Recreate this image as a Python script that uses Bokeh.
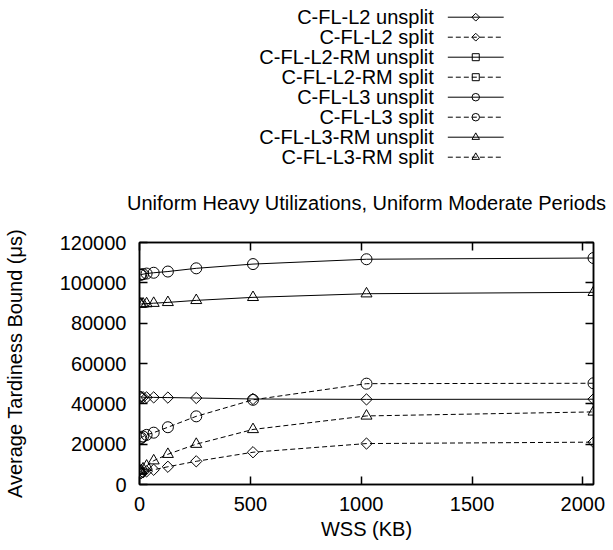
import math
from bokeh.plotting import figure
from bokeh.layouts import column
from bokeh.models import Range1d, LinearAxis, FixedTicker, BasicTickFormatter, CustomJSTickFormatter
from bokeh.core.properties import value
from bokeh.embed import file_html
from bokeh.resources import INLINE

# ---------------- data ----------------
wss_kb = [4, 8, 16, 32, 64, 128, 256, 512, 1024, 2048]

l2_unsplit = [43500, 43400, 43300, 43200, 43200, 43100, 42900, 42400, 42200, 42300]
l2_split = [5500, 5700, 6000, 6500, 7300, 8800, 11500, 16000, 20300, 21000]
l2rm_unsplit = []   # not visible in the chart
l2rm_split = []     # not visible in the chart
l3_unsplit = [104000, 104100, 104300, 104600, 105000, 105600, 107200, 109300, 111700, 112300]
l3_split = [22800, 23200, 23800, 24600, 25700, 28400, 33800, 42000, 50000, 50200]
l3rm_unsplit = [89500, 89500, 89600, 89700, 89900, 90300, 91300, 92800, 94600, 95300]
l3rm_split = [6500, 7000, 7800, 9200, 11800, 15000, 20000, 27300, 34000, 36000]

series_names = [
    "C-FL-L2 unsplit", "C-FL-L2 split",
    "C-FL-L2-RM unsplit", "C-FL-L2-RM split",
    "C-FL-L3 unsplit", "C-FL-L3 split",
    "C-FL-L3-RM unsplit", "C-FL-L3-RM split",
]
series_values = [l2_unsplit, l2_split, l2rm_unsplit, l2rm_split,
                 l3_unsplit, l3_split, l3rm_unsplit, l3rm_split]

x_ticks = [0, 500, 1000, 1500, 2000]
y_ticks = [0, 20000, 40000, 60000, 80000, 100000, 120000]
title_text = "Uniform Heavy Utilizations, Uniform Moderate Periods"
x_label = "WSS (KB)"
y_label = "Average Tardiness Bound (\u03bcs)"

# ---------------- styles ----------------
FONT = "Liberation Sans"
FS = "20px"
# (marker, angle, plot size, legend size)
marker_styles = {
    "diamond": ("square", math.pi / 4, 8, 5.5),
    "square": ("square", 0.0, 8, 7),
    "circle": ("circle", 0.0, 11, 7.5),
    "triangle": ("triangle", 0.0, 11, 7.5),
}
series_markers = ["diamond", "diamond", "square", "square",
                  "circle", "circle", "triangle", "triangle"]
series_dash = ["solid", "5 3"] * 4

W = 612
FRAME_L = 138
FRAME_R = 593
LEG_H = 222
LEG_FRAME_H = 184
MAIN_H = 549 - LEG_H

# ---------------- legend figure (data units = page pixels), title below it ----------------
leg = figure(width=W, height=LEG_H, x_range=Range1d(FRAME_L, FRAME_R),
             y_range=Range1d(LEG_FRAME_H, 0),
             x_axis_type=None, y_axis_type=None, toolbar_location=None,
             output_backend="svg", min_border_left=FRAME_L, min_border_right=W - FRAME_R,
             min_border_top=0, min_border_bottom=LEG_H - LEG_FRAME_H,
             title=title_text, title_location="below")
leg.outline_line_color = None
leg.title.text_font = FONT
leg.title.text_font_size = FS
leg.title.text_font_style = "normal"
leg.title.text_color = "black"
leg.title.align = "center"
leg.title.standoff = 10

row_y = [16.7 + 20 * i for i in range(len(series_names))]
leg.text(x=[433] * len(series_names), y=row_y, text=series_names,
         text_align="right", text_baseline="middle",
         text_font=value(FONT), text_font_size=FS, text_color="black")
for i, name in enumerate(series_names):
    mk, ang, _, lsz = marker_styles[series_markers[i]]
    leg.line(x=[447, 503], y=[row_y[i], row_y[i]], line_color="black", line_width=1,
             line_dash=series_dash[i])
    leg.scatter(x=[475], y=[row_y[i]], marker=mk, angle=ang, size=lsz,
                fill_color=None, line_color="black", line_width=1)

# ---------------- main figure ----------------
p = figure(width=W, height=MAIN_H, x_range=Range1d(0, 2048), y_range=Range1d(0, 120000),
           toolbar_location=None, output_backend="svg",
           min_border_left=FRAME_L, min_border_right=W - FRAME_R,
           min_border_top=242 - LEG_H, min_border_bottom=LEG_H + MAIN_H - 484)
p.grid.visible = False
p.outline_line_color = "black"
p.outline_line_width = 1.5

for i, vals in enumerate(series_values):
    if not vals:
        continue
    xs = wss_kb[:len(vals)]
    mk, ang, psz, _ = marker_styles[series_markers[i]]
    p.line(x=xs, y=vals, line_color="black", line_width=1, line_dash=series_dash[i])
    p.scatter(x=xs, y=vals, marker=mk, angle=ang, size=psz,
              fill_color=None, line_color="black", line_width=1)


def style_axis(ax, ticks):
    ax.ticker = FixedTicker(ticks=ticks)
    ax.major_tick_in = 8
    ax.major_tick_out = 0
    ax.minor_tick_in = 0
    ax.minor_tick_out = 0
    ax.axis_line_width = 1.5
    ax.major_tick_line_width = 1.5
    ax.major_label_text_font = FONT
    ax.major_label_text_font_size = FS
    ax.major_label_text_color = "black"
    ax.axis_label_text_font = FONT
    ax.axis_label_text_font_size = FS
    ax.axis_label_text_font_style = "normal"
    ax.axis_label_text_color = "black"


xa = p.xaxis[0]
style_axis(xa, x_ticks)
xa.formatter = BasicTickFormatter(use_scientific=False)
xa.major_label_standoff = 12
xa.axis_label = x_label
xa.axis_label_standoff = 4

ya = p.yaxis[0]
style_axis(ya, y_ticks)
ya.formatter = BasicTickFormatter(use_scientific=False)
ya.major_label_standoff = 13
ya.axis_label = y_label
ya.axis_label_standoff = 31

blank = CustomJSTickFormatter(code="return ''")
ra = LinearAxis()
style_axis(ra, y_ticks)
ra.formatter = blank
ra.major_label_text_font_size = "1px"
ra.major_label_standoff = 0
p.add_layout(ra, "right")

ta = LinearAxis()
style_axis(ta, x_ticks)
ta.formatter = blank
ta.major_label_text_font_size = "1px"
ta.major_label_standoff = 0
p.add_layout(ta, "above")

layout = column(leg, p, spacing=0)
open("out.html", "w").write(file_html(layout, INLINE))
